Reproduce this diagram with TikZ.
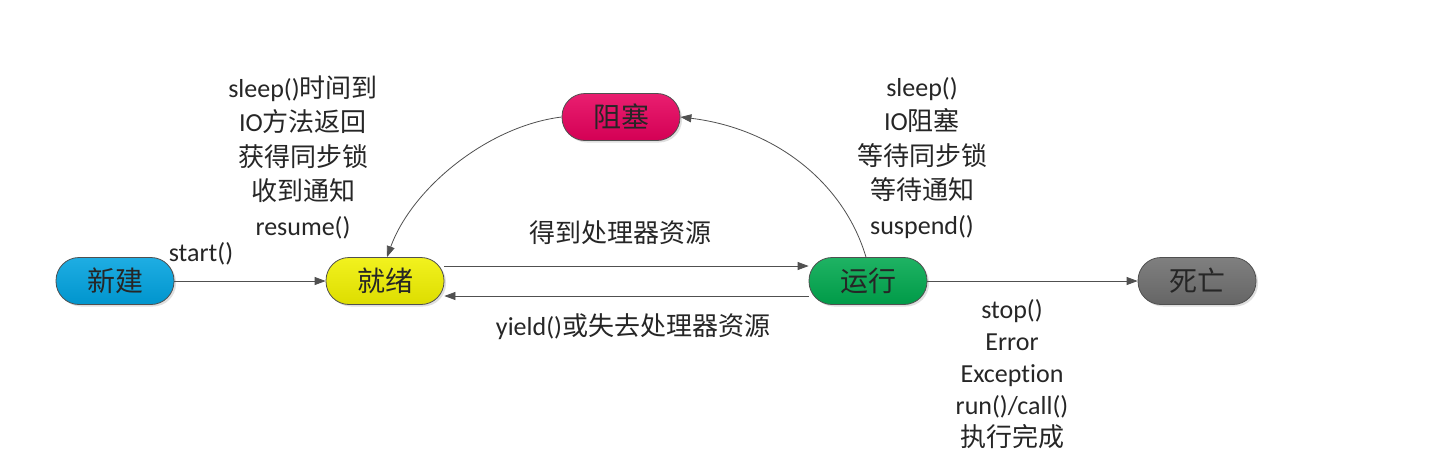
\documentclass[tikz,border=0pt]{standalone}
\usepackage{fontspec}
\setmainfont{Carlito}[Ligatures=NoCommon]
\newfontfamily\cjk{Noto Sans CJK SC}
\usetikzlibrary{arrows.meta,shadows}
\definecolor{cnew}{HTML}{00A2DF}
\definecolor{cready}{HTML}{F0F000}
\definecolor{crun}{HTML}{00A84E}
\definecolor{cdead}{HTML}{6E6E6E}
\definecolor{cblock}{HTML}{E6005C}
\definecolor{edgegray}{HTML}{505050}
\definecolor{txt}{HTML}{262626}
\tikzset{
  state/.style={draw=edgegray, line width=0.8pt, rounded corners=23pt,
    minimum width=118pt, minimum height=47pt, inner sep=0pt,
    top color=#1!88!white, bottom color=#1!92!black,
    drop shadow={shadow xshift=2pt, shadow yshift=-2pt, opacity=0.25},
    font=\fontsize{28}{32}\selectfont\cjk, text=txt},
  conn/.style={draw=edgegray, line width=0.8pt, -{Triangle[length=11pt,width=8pt]}},
  lbl/.style={font=\fontsize{26}{34.5}\selectfont, text=txt, align=center, inner sep=0pt},
}
\begin{document}
\begin{tikzpicture}[x=1pt,y=-1pt]
\useasboundingbox[fill=white] (0,0) rectangle (1440,475);
\node[state=cnew]   (new)   at (115,281) {新建};
\node[state=cready] (ready) at (385,281) {就绪};
\node[state=crun]   (run)   at (868,281) {运行};
\node[state=cdead]  (dead)  at (1197,281) {死亡};
\node[state=cblock] (block) at (621,117) {阻塞};

\draw[conn] (new.east) -- (ready.west);
\draw[conn] (ready.east |- 0,266) -- (run.west |- 0,266);
\draw[conn] (run.west |- 0,296) -- (ready.east |- 0,296);
\draw[conn] (run.east) -- (dead.west);
\draw[conn] (run.north -| 866,0) .. controls (843,180) and (772,128) .. (block.east);
\draw[conn] (block.west) .. controls (488,126) and (412,188) .. (ready.north -| 387,0);

\node[lbl] (lstart) at (201,254) {start()};
\node[lbl] (lwake) at (303,157) {sleep(){\cjk 时间到}\\IO{\cjk 方法返回}\\{\cjk 获得同步锁}\\{\cjk 收到通知}\\resume()};
\node[lbl] (lblk) at (922,158) {sleep()\\IO{\cjk 阻塞}\\{\cjk 等待同步锁}\\{\cjk 等待通知}\\suspend()};
\node[lbl] (lget) at (620,233) {\cjk 得到处理器资源};
\node[lbl] (lyield) at (633,327) {yield(){\cjk 或失去处理器资源}};
\node[lbl] (ldead) at (1012,374) {stop()\\[-2.5pt]Error\\[-2.5pt]Exception\\[-2.5pt]run()/call()\\[-2.5pt]{\cjk 执行完成}};
\end{tikzpicture}
\end{document}
